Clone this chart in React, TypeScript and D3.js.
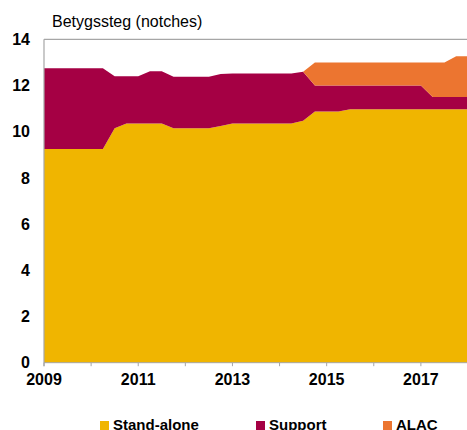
import React from "react";
import * as d3 from "d3";

const quarters: number[] = d3.range(0, 37).map((i) => 2009 + i / 4);

const standAlone: number[] = [
  9.25, 9.25, 9.25, 9.25, 9.25, 9.25, 10.15, 10.36, 10.36, 10.36, 10.36, 10.15,
  10.15, 10.15, 10.15, 10.25, 10.36, 10.36, 10.36, 10.36, 10.36, 10.36, 10.47,
  10.87, 10.87, 10.87, 10.97, 10.97, 10.97, 10.97, 10.97, 10.97, 10.97, 10.97,
  10.97, 10.97, 10.97,
];

const support: number[] = [
  3.5, 3.5, 3.5, 3.5, 3.5, 3.5, 2.25, 2.04, 2.04, 2.26, 2.26, 2.23, 2.23, 2.23,
  2.23, 2.25, 2.16, 2.16, 2.16, 2.16, 2.16, 2.16, 2.13, 1.13, 1.13, 1.13, 1.03,
  1.03, 1.03, 1.03, 1.03, 1.03, 1.03, 0.53, 0.53, 0.53, 0.53,
];

const alac: number[] = [
  0, 0, 0, 0, 0, 0, 0, 0, 0, 0, 0, 0, 0, 0, 0, 0, 0, 0, 0, 0, 0, 0, 0, 1.0, 1.0,
  1.0, 1.0, 1.0, 1.0, 1.0, 1.0, 1.0, 1.0, 1.5, 1.5, 1.77, 1.77,
];

const seriesKeys = ["standAlone", "support", "alac"];
const seriesLabels = ["Stand-alone", "Support", "ALAC"];
const seriesColors = ["#F0B500", "#A50044", "#EC7530"];

const yTicks = [0, 2, 4, 6, 8, 10, 12, 14];
const xTickYears = d3.range(2009, 2019);
const xLabelYears = [2009, 2011, 2013, 2015, 2017];

const title = "Betygssteg (notches)";

export default function App() {
  const W = 467;
  const H = 430;
  const left = 44;
  const right = 468;
  const top = 39.3;
  const bottom = 362.7;

  const x = d3.scaleLinear().domain([2009, 2018]).range([left, right]);
  const y = d3.scaleLinear().domain([0, 14]).range([bottom, top]);

  const rows = quarters.map((q, i) => ({
    q,
    standAlone: standAlone[i],
    support: support[i],
    alac: alac[i],
  }));

  const stacked = d3.stack<any>().keys(seriesKeys)(rows);
  const area = d3
    .area<any>()
    .x((d) => x(d.data.q))
    .y0((d) => y(d[0]))
    .y1((d) => y(d[1]))
    .curve(d3.curveLinear);

  const font = "Arial, 'Liberation Sans', Helvetica, sans-serif";
  const gray = "#a6a6a6";

  const legendX = [100, 256, 383];

  return (
    <svg
      width={W}
      height={H}
      style={{ position: "absolute", left: 0, top: 0, display: "block" }}
      fontFamily={font}
    >
      <rect x={0} y={0} width={W} height={H} fill="#fff" />
      {stacked.map((s, i) => (
        <path key={s.key} d={area(s as any) || ""} fill={seriesColors[i]} stroke="none" />
      ))}
      {/* frame */}
      <line x1={left} x2={W} y1={top} y2={top} stroke={gray} strokeWidth={1.2} />
      <line x1={left} x2={left} y1={top} y2={bottom + 3.5} stroke={gray} strokeWidth={1.2} />
      <line x1={left} x2={W} y1={bottom} y2={bottom} stroke={gray} strokeWidth={1} />
      {xTickYears.map((yr) => (
        <line
          key={yr}
          x1={x(yr)}
          x2={x(yr)}
          y1={bottom}
          y2={bottom + 3.5}
          stroke={gray}
          strokeWidth={1}
        />
      ))}
      {yTicks.map((t) => (
        <text
          key={t}
          x={30}
          y={y(t)}
          dy="0.36em"
          textAnchor="end"
          fontSize={16}
          fontWeight="bold"
          fill="#000"
        >
          {t}
        </text>
      ))}
      {xLabelYears.map((yr) => (
        <text
          key={yr}
          x={x(yr)}
          y={384.5}
          textAnchor="middle"
          fontSize={16}
          fontWeight="bold"
          fill="#000"
        >
          {yr}
        </text>
      ))}
      <text x={52} y={27} fontSize={16} fill="#000">
        {title}
      </text>
      {seriesLabels.map((lab, i) => (
        <g key={lab}>
          <rect x={legendX[i]} y={421} width={9} height={9} fill={seriesColors[i]} />
          <text x={legendX[i] + 13} y={429.5} fontSize={15} fontWeight="bold" fill="#000">
            {lab}
          </text>
        </g>
      ))}
    </svg>
  );
}
